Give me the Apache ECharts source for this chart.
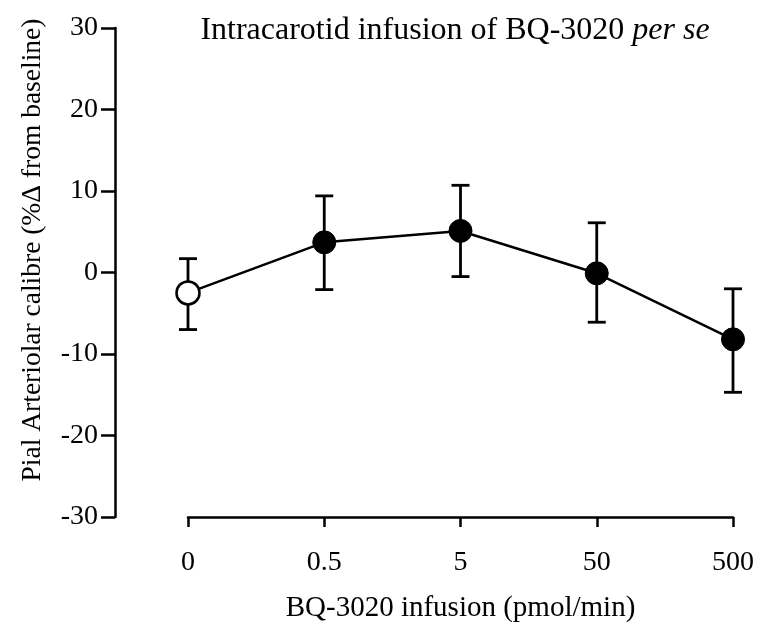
<!DOCTYPE html>
<html>
<head>
<meta charset="utf-8">
<script src="https://cdn.jsdelivr.net/npm/echarts@6/dist/echarts.min.js"></script>
<style>html,body{margin:0;padding:0;background:#fff}#c{width:777px;height:628px}</style>
</head>
<body>
<div id="c"></div>
<script>
var doses = ['0', '0.5', '5', '50', '500'];
var means = [-2.5, 3.7, 5.1, -0.1, -8.2];
var upper = [1.7, 9.4, 10.7, 6.1, -2.0];
var lower = [-7.0, -2.1, -0.5, -6.1, -14.7];
var yTicks = [-30, -20, -10, 0, 10, 20, 30];

var FONT = 'Liberation Serif';
var chart = echarts.init(document.getElementById('c'));

var lineData = means.map(function (v, i) {
  var item = { value: [i, v] };
  if (i === 0) item.itemStyle = { color: '#fff', borderColor: '#000', borderWidth: 2.5 };
  return item;
});
var errData = means.map(function (v, i) { return [i, lower[i], upper[i]]; });

chart.setOption({
  backgroundColor: '#fff',
  animation: false,
  title: {
    text: '{a|Intracarotid infusion of BQ-3020 }{b|per se}',
    left: 450, textAlign: 'center', top: 10,
    textStyle: {
      fontWeight: 'normal',
      rich: {
        a: { fontFamily: FONT, fontSize: 32, fontWeight: 'normal', color: '#000' },
        b: { fontFamily: FONT, fontSize: 32, fontWeight: 'normal', fontStyle: 'italic', color: '#000' }
      }
    }
  },
  graphic: [{
    type: 'text', x: 33, y: 250, rotation: Math.PI / 2,
    style: { text: 'Pial Arteriolar calibre (%Δ from baseline)', fontFamily: FONT, fontSize: 27.5,
      fill: '#000', align: 'center', verticalAlign: 'middle' }
  }],
  grid: [
    { left: 115, right: 44, top: 28, bottom: 111 },
    { left: 188, right: 44, top: 28, bottom: 111 }
  ],
  xAxis: [
    { gridIndex: 0, type: 'value', show: false, min: 0, max: 1 },
    {
      gridIndex: 1, type: 'value', min: 0, max: doses.length - 1, interval: 1,
      name: 'BQ-3020 infusion (pmol/min)', nameLocation: 'middle', nameGap: 77,
      nameTextStyle: { fontFamily: FONT, fontSize: 29, color: '#000' },
      axisLine: { show: true, onZero: false, lineStyle: { color: '#000', width: 2.5 } },
      axisTick: { show: true, length: 10, inside: false, lineStyle: { color: '#000', width: 2.5 } },
      axisLabel: { fontFamily: FONT, fontSize: 28, color: '#000', margin: 32,
        formatter: function (v) { return doses[v] !== undefined ? doses[v] : ''; } },
      splitLine: { show: false }
    }
  ],
  yAxis: [
    {
      gridIndex: 0, type: 'value', min: -30, max: 30, interval: 10,
      axisLine: { show: true, lineStyle: { color: '#000', width: 2.5 } },
      axisTick: { show: true, length: 14, lineStyle: { color: '#000', width: 2.5 } },
      axisLabel: { fontFamily: FONT, fontSize: 28, color: '#000', margin: 17,
        formatter: function (v) { return yTicks.indexOf(v) >= 0 ? String(v) : ''; } },
      splitLine: { show: false }
    },
    { gridIndex: 1, type: 'value', min: -30, max: 30, show: false }
  ],
  series: [
    {
      type: 'custom', xAxisIndex: 1, yAxisIndex: 1, z: 1,
      data: errData,
      renderItem: function (params, api) {
        var x = api.value(0);
        var lo = api.coord([x, api.value(1)]);
        var hi = api.coord([x, api.value(2)]);
        var cw = 9;
        var st = { stroke: '#000', lineWidth: 2.8 };
        return {
          type: 'group',
          children: [
            { type: 'line', shape: { x1: hi[0], y1: hi[1], x2: lo[0], y2: lo[1] }, style: st },
            { type: 'line', shape: { x1: hi[0] - cw, y1: hi[1], x2: hi[0] + cw, y2: hi[1] }, style: st },
            { type: 'line', shape: { x1: lo[0] - cw, y1: lo[1], x2: lo[0] + cw, y2: lo[1] }, style: st }
          ]
        };
      }
    },
    {
      type: 'line', xAxisIndex: 1, yAxisIndex: 1, z: 3,
      data: lineData,
      symbol: 'circle', symbolSize: 23, showAllSymbol: true,
      lineStyle: { color: '#000', width: 2.5 },
      itemStyle: { color: '#000', borderColor: '#000', borderWidth: 1 }
    }
  ]
});
</script>
</body>
</html>
